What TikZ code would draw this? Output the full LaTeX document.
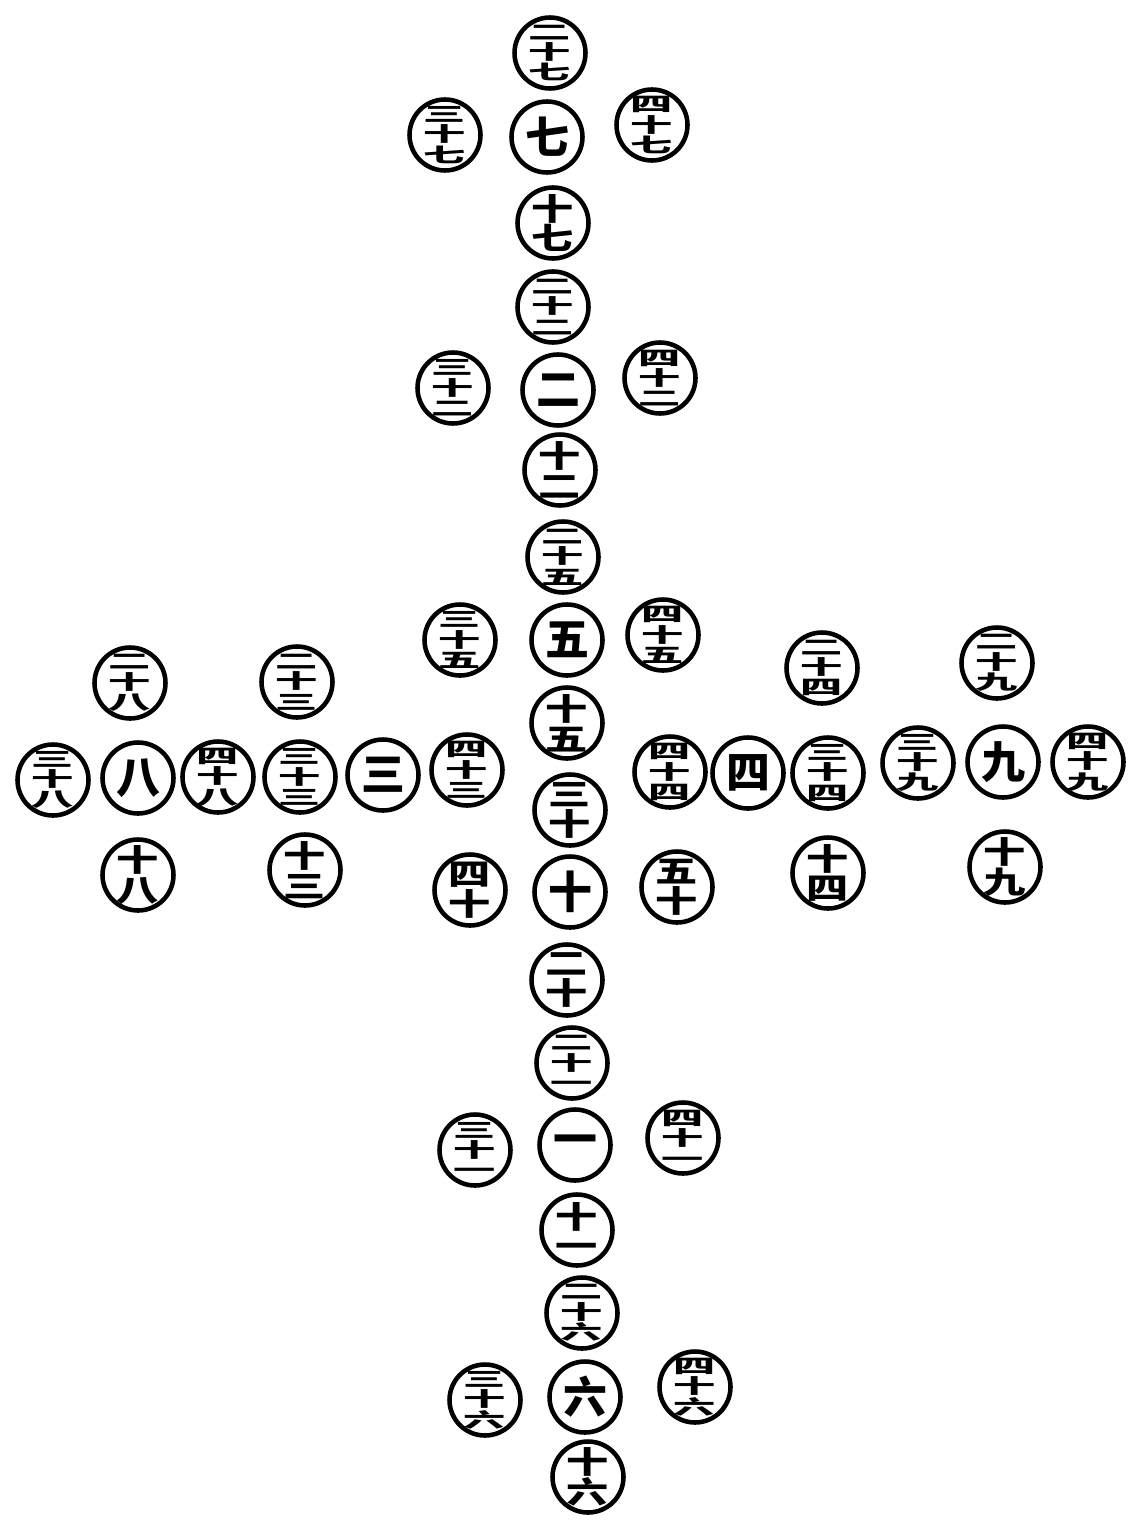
\documentclass[tikz,border=0pt]{standalone}
\usepackage{fontspec}
\usepackage{graphicx}
\usepackage{tikz}
\usetikzlibrary{positioning}
\newfontfamily\cjk{Noto Sans CJK SC}
% squeezed characters, as the tens are cut in the old print
\newcommand{\squash}[1]{\scalebox{1.0}[0.47]{#1}}
\newcommand{\squashb}[1]{\scalebox{1.0}[0.72]{#1}}
\newcommand{\nthree}[2]{\squash{#1}\\\squash{十}\\\squash{#2}}
\newcommand{\ntwo}[2]{\squashb{#1}\\\squashb{#2}}

\begin{document}
\begin{tikzpicture}[
  x=0.02cm, y=-0.02cm,
  coin/.style={circle, draw=black, line width=2.6pt, minimum size=1.42cm, inner sep=-3pt, align=center},
  unit/.style={coin, font=\cjk\bfseries\fontsize{25}{25}\selectfont},
  teen/.style={coin, font=\cjk\bfseries\fontsize{24}{17}\selectfont},
  tens/.style={coin, font=\cjk\bfseries\fontsize{24}{11.6}\selectfont}
]
\useasboundingbox (0,0) rectangle (1128,1521);

% south: two and seven
\node[tens] (n27) at (550,53) {\nthree{二}{七}};
\node[unit] (n7) at (547,137) {七};
\node[tens] (n37) at (445,135) {\nthree{三}{七}};
\node[tens] (n47) at (652,125) {\nthree{四}{七}};
\node[teen] (n17) at (553,223) {\ntwo{十}{七}};

\node[tens] (n22) at (553,307) {\nthree{二}{二}};
\node[unit] (n2) at (558,390) {二};
\node[tens] (n32) at (453,388) {\nthree{三}{二}};
\node[tens] (n42) at (660,378) {\nthree{四}{二}};
\node[teen] (n12) at (560,470) {\ntwo{十}{二}};

% centre: five and ten
\node[tens] (n25) at (563,557) {\nthree{二}{五}};
\node[unit] (n5) at (567,640) {五};
\node[tens] (n35) at (460,640) {\nthree{三}{五}};
\node[tens] (n45) at (663,635) {\nthree{四}{五}};
\node[teen] (n15) at (567,723) {\ntwo{十}{五}};

\node[teen] (n30) at (570,810) {\ntwo{三}{十}};
\node[unit] (n10) at (570,892) {十};
\node[teen] (n40) at (470,890) {\ntwo{四}{十}};
\node[teen] (n50) at (677,887) {\ntwo{五}{十}};
\node[teen] (n20) at (567,980) {\ntwo{二}{十}};

% north: one and six
\node[tens] (n21) at (572,1063) {\nthree{二}{一}};
\node[unit] (n1) at (575,1145) {一};
\node[tens] (n31) at (475,1150) {\nthree{三}{一}};
\node[tens] (n41) at (683,1138) {\nthree{四}{一}};
\node[teen] (n11) at (577,1230) {\ntwo{十}{一}};

\node[tens] (n26) at (582,1313) {\nthree{二}{六}};
\node[unit] (n6) at (585,1397) {六};
\node[tens] (n36) at (485,1400) {\nthree{三}{六}};
\node[tens] (n46) at (695,1387) {\nthree{四}{六}};
\node[teen] (n16) at (588,1477) {\ntwo{十}{六}};

% east: three and eight
\node[tens] (n28) at (130,683) {\nthree{二}{八}};
\node[tens] (n38) at (53,780) {\nthree{三}{八}};
\node[unit] (n8) at (138,778) {八};
\node[tens] (n48) at (218,777) {\nthree{四}{八}};
\node[teen] (n18) at (138,875) {\ntwo{十}{八}};

\node[tens] (n23) at (297,682) {\nthree{二}{三}};
\node[tens] (n33) at (300,777) {\nthree{三}{三}};
\node[unit] (n3) at (383,775) {三};
\node[tens] (n43) at (467,770) {\nthree{四}{三}};
\node[teen] (n13) at (305,870) {\ntwo{十}{三}};

% west: four and nine
\node[tens] (n24) at (822,668) {\nthree{二}{四}};
\node[tens] (n44) at (670,772) {\nthree{四}{四}};
\node[unit] (n4) at (748,773) {四};
\node[tens] (n34) at (828,773) {\nthree{三}{四}};
\node[teen] (n14) at (828,873) {\ntwo{十}{四}};

\node[tens] (n29) at (997,663) {\nthree{二}{九}};
\node[tens] (n39) at (918,763) {\nthree{三}{九}};
\node[unit] (n9) at (1003,762) {九};
\node[tens] (n49) at (1088,762) {\nthree{四}{九}};
\node[teen] (n19) at (1005,867) {\ntwo{十}{九}};

\end{tikzpicture}
\end{document}
